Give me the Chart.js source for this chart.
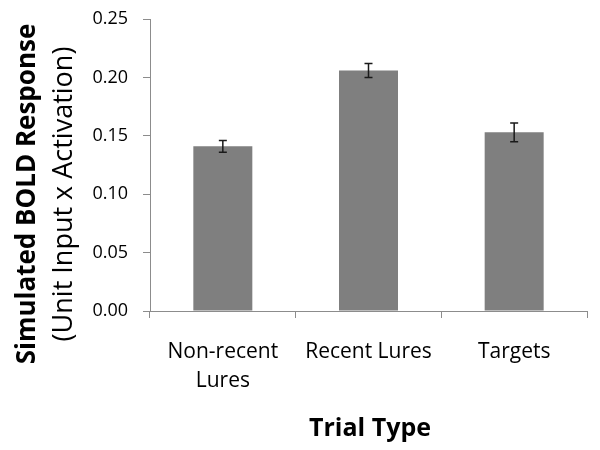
<!DOCTYPE html>
<html>
<head>
<meta charset="utf-8">
<script src="https://cdn.jsdelivr.net/npm/chart.js@4.4.0/dist/chart.umd.min.js"></script>
<style>
  body { margin: 0; background: #fff; }
</style>
</head>
<body>
<canvas id="grafico" width="600" height="450"></canvas>
<script>
// datos
const categorias = [['Non-recent', 'Lures'], 'Recent Lures', 'Targets'];
const respuesta = [0.141, 0.206, 0.153];
const errores = [0.005, 0.006, 0.008];
const ticksY = [0, 0.05, 0.10, 0.15, 0.20, 0.25];

const fuente = "'Open Sans', sans-serif";

// barras de error
const pluginErrores = {
    id: 'errores',
    afterDatasetsDraw(chart) {
        const ctx = chart.ctx;
        const meta = chart.getDatasetMeta(0);
        const y = chart.scales.y;
        ctx.save();
        ctx.strokeStyle = '#1a1a1a';
        ctx.lineWidth = 1.5;
        meta.data.forEach((barra, i) => {
            const x = barra.x;
            const arriba = y.getPixelForValue(respuesta[i] + errores[i]);
            const abajo = y.getPixelForValue(respuesta[i] - errores[i]);
            ctx.beginPath();
            ctx.moveTo(x, arriba); ctx.lineTo(x, abajo);
            ctx.moveTo(x - 4, arriba); ctx.lineTo(x + 4, arriba);
            ctx.moveTo(x - 4, abajo); ctx.lineTo(x + 4, abajo);
            ctx.stroke();
        });
        ctx.restore();
    }
};

// titulos de los ejes
const pluginTitulos = {
    id: 'titulos',
    afterDraw(chart) {
        const ctx = chart.ctx;
        ctx.save();
        ctx.fillStyle = '#000';
        ctx.textAlign = 'center';
        ctx.textBaseline = 'alphabetic';

        ctx.font = 'bold 25px ' + fuente;
        ctx.fillText('Trial Type', 370, 436);

        ctx.translate(35, 194);
        ctx.rotate(-Math.PI / 2);
        ctx.font = 'bold 26px ' + fuente;
        ctx.fillText('Simulated BOLD Response', 0, 0);
        ctx.font = '27px ' + fuente;
        ctx.fillText('(Unit Input x Activation)', 0, 37);
        ctx.restore();
    }
};

new Chart(document.getElementById('grafico').getContext('2d'), {
    type: 'bar',
    data: {
        labels: categorias,
        datasets: [{
            data: respuesta,
            backgroundColor: '#7f7f7f',
            borderWidth: 0,
            categoryPercentage: 1,
            barPercentage: 0.405
        }]
    },
    options: {
        responsive: false,
        animation: false,
        layout: { padding: { top: 19, right: 13, left: 0, bottom: 0 } },
        plugins: {
            legend: { display: false },
            tooltip: { enabled: false }
        },
        scales: {
            x: {
                afterFit: (scale) => { scale.height = 139; },
                grid: { drawOnChartArea: false, tickLength: 7, color: '#8c8c8c' },
                border: { color: '#8c8c8c' },
                ticks: {
                    color: '#000',
                    padding: 19,
                    maxRotation: 0,
                    font: { family: fuente, size: 21, lineHeight: 1.4 }
                }
            },
            y: {
                min: 0,
                max: 0.25,
                afterFit: (scale) => {
                    scale.width = 150;
                    scale.paddingTop = 0;
                    scale.paddingBottom = 0;
                },
                afterBuildTicks: (scale) => { scale.ticks = ticksY.map(v => ({ value: v })); },
                grid: { drawOnChartArea: false, tickLength: 7, color: '#8c8c8c' },
                border: { color: '#8c8c8c' },
                ticks: {
                    color: '#000',
                    padding: 15,
                    font: { family: fuente, size: 18 },
                    callback: (v) => v.toFixed(2)
                }
            }
        }
    },
    plugins: [pluginErrores, pluginTitulos]
});
</script>
</body>
</html>
